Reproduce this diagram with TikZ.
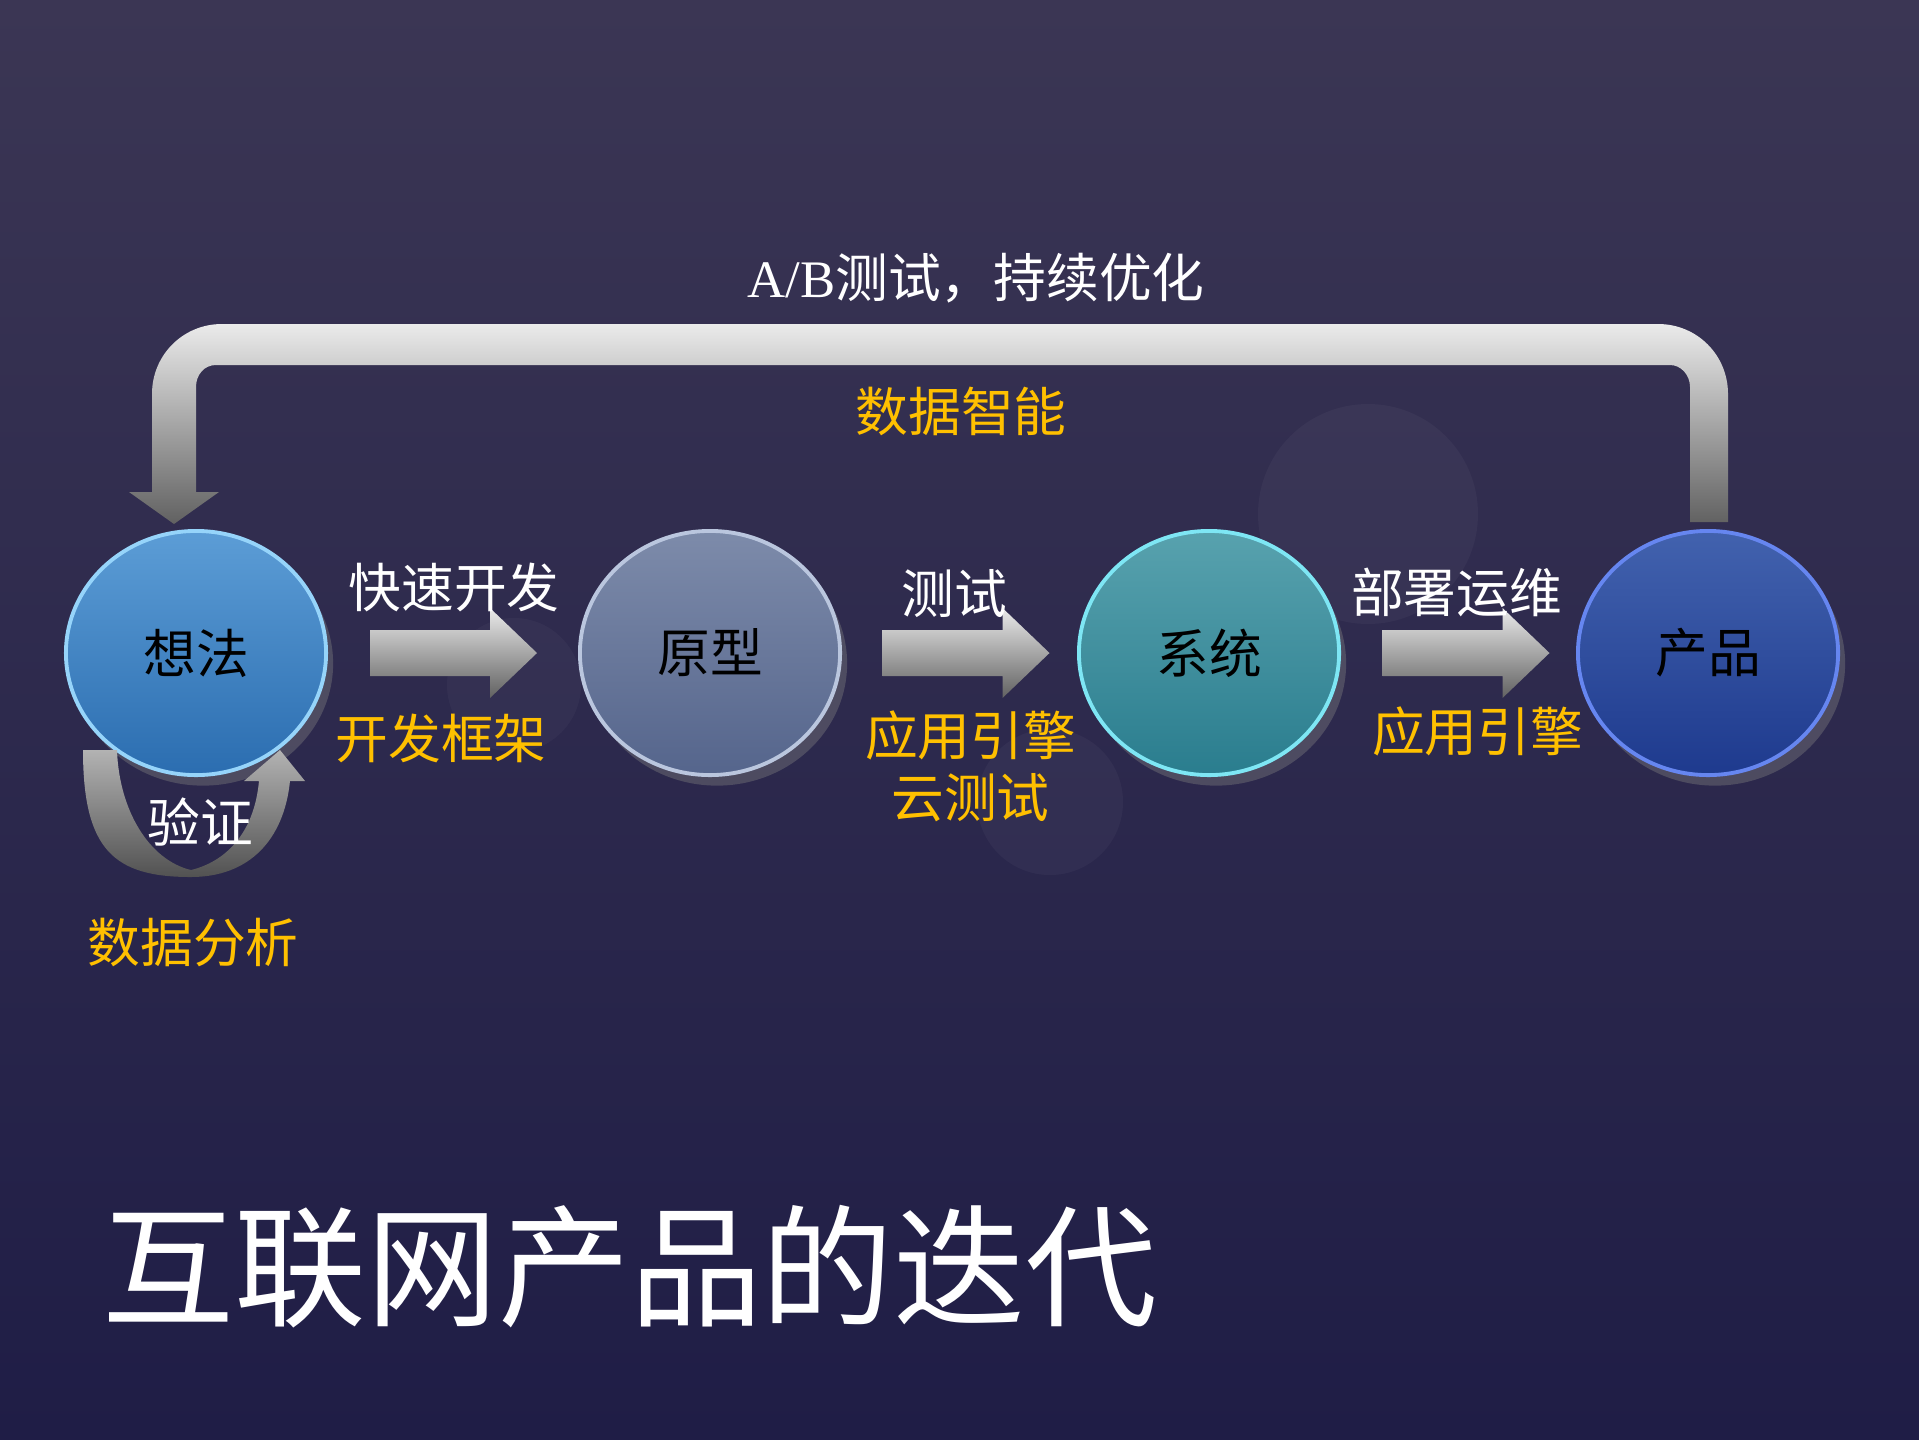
\documentclass[tikz,border=0pt]{standalone}
\usepackage{fontspec}
\setmainfont{Noto Sans CJK SC}
\newfontfamily\latinserif{Liberation Serif}
\usetikzlibrary{shapes.geometric,positioning,calc,shadows}
\definecolor{bgtop}{HTML}{3B3654}
\definecolor{bgbot}{HTML}{1F1D46}
\definecolor{gold}{HTML}{FFC000}
\definecolor{ideatop}{HTML}{5C9DD6}
\definecolor{ideabot}{HTML}{2B6DB0}
\definecolor{ideaedge}{HTML}{96D4FA}
\definecolor{prototop}{HTML}{7D8BAA}
\definecolor{protobot}{HTML}{55658C}
\definecolor{protoedge}{HTML}{BAC6DE}
\definecolor{systop}{HTML}{58A2AE}
\definecolor{sysbot}{HTML}{2A7D8E}
\definecolor{sysedge}{HTML}{7EE6F4}
\definecolor{prodtop}{HTML}{4262AE}
\definecolor{prodbot}{HTML}{1E3A8E}
\definecolor{prodedge}{HTML}{6686F0}
\tikzset{
  stage/.style={ellipse, minimum width=2.6cm, minimum height=2.44cm, inner sep=0pt,
    line width=1.1pt, text=black, font=\fontsize{15pt}{18pt}\selectfont,
    drop shadow={opacity=0.4, shadow xshift=2pt, shadow yshift=-3pt}},
  ideastage/.style={stage, top color=ideatop, bottom color=ideabot, draw=ideaedge},
  protostage/.style={stage, top color=prototop, bottom color=protobot, draw=protoedge},
  sysstage/.style={stage, top color=systop, bottom color=sysbot, draw=sysedge},
  prodstage/.style={stage, top color=prodtop, bottom color=prodbot, draw=prodedge},
  whitelbl/.style={text=white, inner sep=0pt, font=\fontsize{15pt}{18pt}\selectfont},
  goldlbl/.style={text=gold, inner sep=0pt, align=center, font=\fontsize{15pt}{17.6pt}\selectfont},
  titlelbl/.style={text=white, inner sep=0pt, font=\fontsize{37.5pt}{40pt}\selectfont},
  barshade/.style={top color=black!8, bottom color=black!62},
  loopshade/.style={top color=black!30, bottom color=black!68},
  pics/blockarrow/.style={code={
    \shade[barshade] (-83,-23) -- (37,-23) -- (37,-45) -- (84,0) -- (37,45) -- (37,23) -- (-83,23) -- cycle;
  }}
}
\begin{document}
\begin{tikzpicture}[x=0.01cm,y=-0.01cm]
	\shade[top color=bgtop, bottom color=bgbot] (0,0) rectangle (1919,1439);
	\useasboundingbox (0,0) rectangle (1919,1439);
	% faint background discs
	\fill[white,opacity=0.035] (1368,514) circle[radius=110];
	\fill[white,opacity=0.035] (1050,802) circle[radius=73];
	\fill[white,opacity=0.03] (514,685) circle[radius=67];
	% stages
	\node[ideastage] (idea) at (196,653) {想法};
	\node[protostage] (proto) at (710,653) {原型};
	\node[sysstage] (sys) at (1209,653) {系统};
	\node[prodstage] (prod) at (1708,653) {产品};
	% forward arrows
	\coordinate (m1) at ($(idea)!0.5!(proto)$);
	\coordinate (m2) at ($(proto)!0.5!(sys)+(6,0)$);
	\coordinate (m3) at ($(sys)!0.5!(prod)+(7,0)$);
	\pic at (m1) {blockarrow};
	\pic at (m2) {blockarrow};
	\pic at (m3) {blockarrow};
	\node[whitelbl] (dev) at ($(m1)+(1,-66)$) {快速开发};
	\node[goldlbl] (devfw) at ($(m1)+(-12,85)$) {开发框架};
	\node[whitelbl] (test) at ($(m2)+(-11,-59)$) {测试};
	\node[goldlbl] (testfw) at ($(m2)+(5,113)$) {应用引擎\\云测试};
	\node[whitelbl] (ops) at ($(m3)+(-9,-61)$) {部署运维};
	\node[goldlbl] (opsfw) at ($(m3)+(12,78)$) {应用引擎};
	% feedback bracket from product back to idea
	\coordinate (fbR) at ($(prod.north)+(0,-7)$);
	\coordinate (fbL) at ($(idea.north)+(-22,-5)$);
	\shade[barshade] ($(fbR)+(20,0)$) -- ($(fbR)+(20,-128)$)
		.. controls ($(fbR)+(20,-167)$) and ($(fbR)+(-11,-198)$) .. ($(fbR)+(-50,-198)$)
		-- ($(fbL)+(48,-200)$)
		.. controls ($(fbL)+(9,-200)$) and ($(fbL)+(-22,-169)$) .. ($(fbL)+(-22,-130)$)
		-- ($(fbL)+(-22,-32)$) -- ($(fbL)+(-45,-32)$) -- (fbL) -- ($(fbL)+(45,-32)$) -- ($(fbL)+(22,-32)$)
		-- ($(fbL)+(22,-137)$)
		.. controls ($(fbL)+(22,-149)$) and ($(fbL)+(30,-159)$) .. ($(fbL)+(42,-159)$)
		-- ($(fbR)+(-38,-157)$)
		.. controls ($(fbR)+(-27,-157)$) and ($(fbR)+(-18,-147)$) .. ($(fbR)+(-18,-135)$)
		-- ($(fbR)+(-18,0)$) -- cycle;
	\node[whitelbl] (ab) at (976,278) {{\latinserif A/B}测试，持续优化};
	\node[goldlbl] (dataai) at (961,411) {数据智能};
	% verification loop under the idea
	\shade[loopshade] ($(idea)+(-113,97)$)
		.. controls ($(idea)+(-113,197)$) and ($(idea)+(-82,224)$) .. ($(idea)+(-5,224)$)
		.. controls ($(idea)+(53,224)$) and ($(idea)+(88,187)$) .. ($(idea)+(94,128)$)
		-- ($(idea)+(109,128)$) -- ($(idea)+(84,97)$) -- ($(idea)+(48,128)$) -- ($(idea)+(63,128)$)
		.. controls ($(idea)+(58,182)$) and ($(idea)+(28,209)$) .. ($(idea)+(-5,217)$)
		.. controls ($(idea)+(-47,207)$) and ($(idea)+(-77,157)$) .. ($(idea)+(-79,97)$)
		-- cycle;
	\node[whitelbl] (check) at ($(idea)+(4,169)$) {验证};
	\node[goldlbl] (analysis) at ($(idea)+(-3,289)$) {数据分析};
	% title
	\node[titlelbl] (title) at (630,1267) {互联网产品的迭代};
\end{tikzpicture}
\end{document}
